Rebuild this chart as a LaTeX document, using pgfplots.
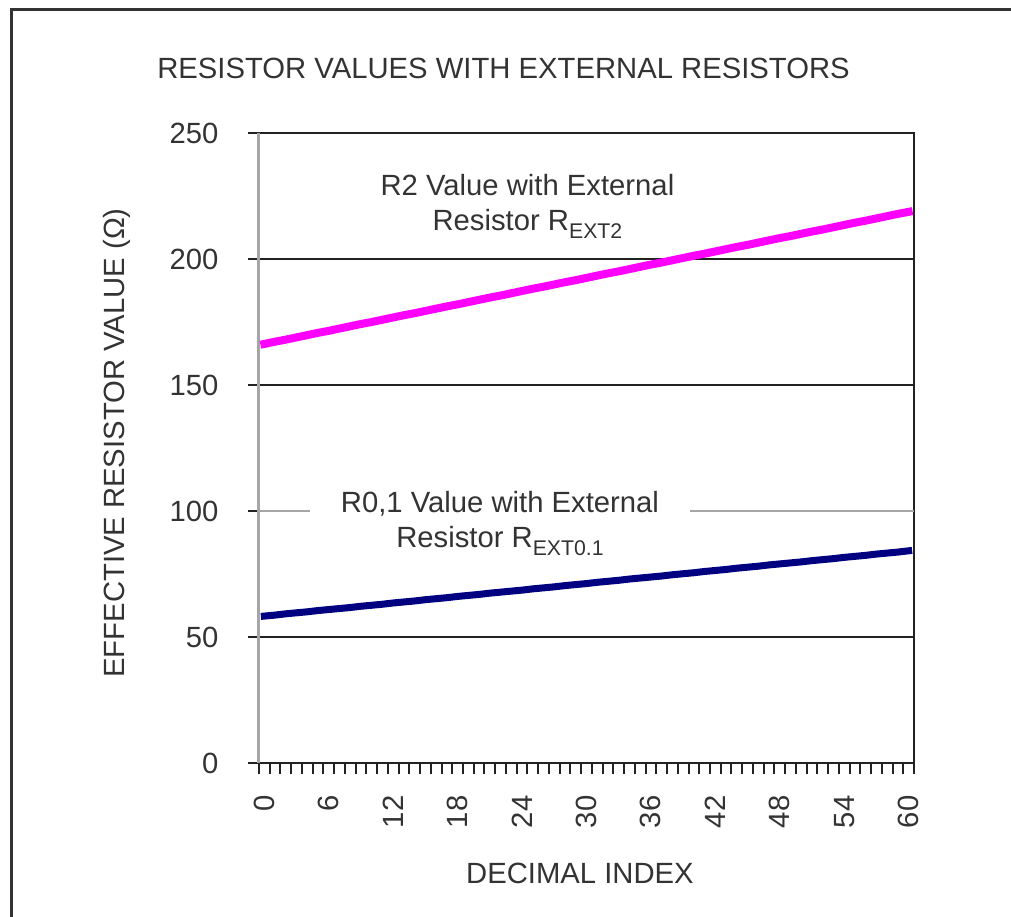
\documentclass[border=0pt]{standalone}
\usepackage{fontspec}
\setmainfont{Liberation Sans}
\usepackage{pgfplots}
\pgfplotsset{compat=1.18}
\definecolor{txt}{HTML}{333333}
\definecolor{grd}{HTML}{222222}
\definecolor{mag}{HTML}{FF00FF}
\definecolor{nvy}{HTML}{000080}
\newcommand{\fs}{\fontsize{11.7}{14}\selectfont}
\begin{document}
\begin{tikzpicture}
\path[use as bounding box] (0,0) rectangle (404.4pt,366.8pt);
\draw[txt, line width=1.2pt] (4.4pt,0) -- (4.4pt,362.8pt) -- (404.4pt,362.8pt);
\node[txt, font=\fs] at (201.4pt,339.6pt) {RESISTOR VALUES WITH EXTERNAL RESISTORS};
\node[txt, rotate=90, font=\fs] at (46.8pt,189.6pt) {EFFECTIVE RESISTOR VALUE (Ω)};
\node[txt, font=\fs] at (232pt,17.6pt) {DECIMAL INDEX};
\begin{axis}[
  at={(103.6pt,61.6pt)}, anchor=south west,
  scale only axis, width=262pt, height=252pt,
  xmin=-0.5, xmax=60.5, ymin=0, ymax=250,
  clip=false,
  axis line style={draw=grd, line width=0.8pt},
  tick align=outside, major tick length=4.4pt,
  xtick pos=left, ytick pos=left,
  xtick={-0.5,0.5,...,60.5}, xticklabels={},
  extra x ticks={0,6,...,60},
  extra x tick labels={0,6,12,18,24,30,36,42,48,54,60},
  extra x tick style={major tick length=0pt},
  ytick={0,50,150,200,250},
  extra y ticks={100},
  extra y tick style={grid style={gray!70, line width=0.8pt}},
  ymajorgrids, grid style={grd, line width=0.8pt},
  tick style={grd, line width=0.8pt},
  xticklabel style={rotate=90, anchor=east, inner sep=0pt, xshift=-12.8pt, font=\fs, text=txt},
  yticklabel style={anchor=east, inner sep=0pt, xshift=-11.6pt, font=\fs, text=txt},
  /pgf/number format/assume math mode=true,
]
\draw[gray!70, line width=1.2pt] (rel axis cs:0,0) -- (rel axis cs:0,1);
\addplot[mag, line width=3.2pt, line cap=rect] table {
x y
0 166.3
1 167.2
2 168.0
3 168.9
4 169.8
5 170.7
6 171.5
7 172.4
8 173.3
9 174.2
10 175.0
11 175.9
12 176.8
13 177.7
14 178.5
15 179.4
16 180.3
17 181.2
18 182.0
19 182.9
20 183.8
21 184.7
22 185.5
23 186.4
24 187.3
25 188.2
26 189.0
27 189.9
28 190.8
29 191.6
30 192.5
31 193.4
32 194.3
33 195.1
34 196.0
35 196.9
36 197.8
37 198.6
38 199.5
39 200.4
40 201.3
41 202.1
42 203.0
43 203.9
44 204.8
45 205.6
46 206.5
47 207.4
48 208.3
49 209.1
50 210.0
51 210.9
52 211.7
53 212.6
54 213.5
55 214.4
56 215.2
57 216.1
58 217.0
59 217.9
60 218.7
};
\addplot[nvy, line width=2.8pt, line cap=rect] table {
x y
0 58.3
1 58.7
2 59.2
3 59.6
4 60.0
5 60.5
6 60.9
7 61.3
8 61.7
9 62.2
10 62.6
11 63.0
12 63.5
13 63.9
14 64.3
15 64.8
16 65.2
17 65.6
18 66.1
19 66.5
20 66.9
21 67.4
22 67.8
23 68.2
24 68.6
25 69.1
26 69.5
27 69.9
28 70.4
29 70.8
30 71.2
31 71.7
32 72.1
33 72.5
34 73.0
35 73.4
36 73.8
37 74.2
38 74.7
39 75.1
40 75.5
41 76.0
42 76.4
43 76.8
44 77.3
45 77.7
46 78.1
47 78.6
48 79.0
49 79.4
50 79.8
51 80.3
52 80.7
53 81.1
54 81.6
55 82.0
56 82.4
57 82.9
58 83.3
59 83.7
60 84.2
};
\node[txt, align=center, font=\fs, inner sep=0pt] at (axis cs:24.5,221) {R2 Value with External\\Resistor R\raisebox{-3.2pt}{\fontsize{8.5}{8.5}\selectfont EXT2}};
\node[txt, align=center, font=\fs, fill=white, inner xsep=12.4pt, inner ysep=1pt] at (axis cs:21.94,95.2) {R0,1 Value with External\\Resistor R\raisebox{-3.2pt}{\fontsize{8.5}{8.5}\selectfont EXT0.1}};
\end{axis}
\end{tikzpicture}
\end{document}
